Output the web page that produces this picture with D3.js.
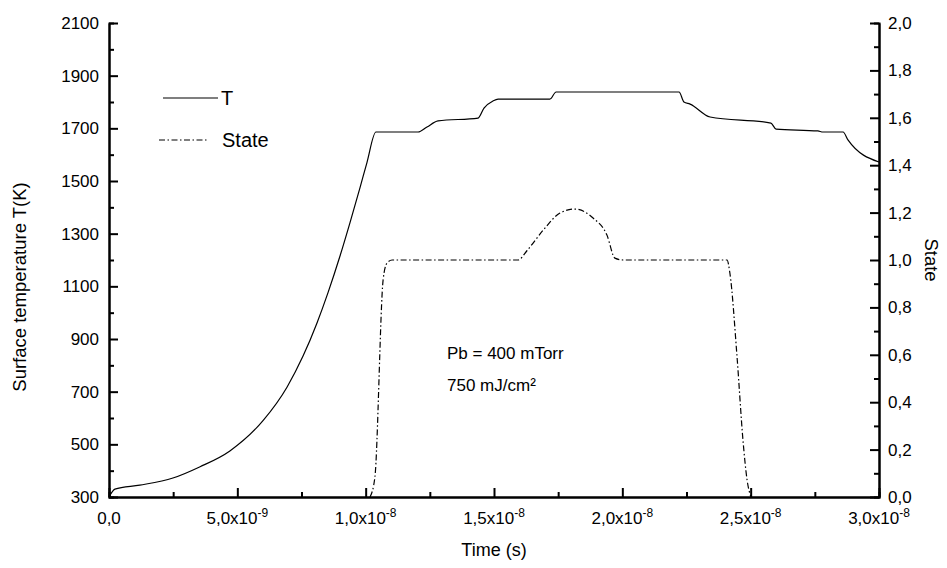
<!DOCTYPE html>
<html>
<head>
<meta charset="utf-8">
<script src="https://cdn.jsdelivr.net/npm/d3@7"></script>
<style>
  body { margin: 0; background: #fff; }
  svg { display: block; }
</style>
</head>
<body>
<div id="chart"></div>
<script>
let font = "Liberation Sans, Arial, sans-serif"

// Temperatur-Kurve (Zeit in ns, T in K)
let tempZeit = [0, 0.23, 1.2, 2.49, 3.55, 4.71, 6.0, 6.94, 7.56, 8.10, 8.53, 9.00, 9.39, 9.78, 10.05, 10.40,
    12.04, 12.39, 12.82, 14.38, 14.61, 14.96, 15.16, 17.18, 17.42, 22.21, 22.40, 22.64, 23.42, 25.79, 25.99,
    27.62, 27.82, 28.60, 28.79, 30.0];
let tempWerte = [300, 330, 345, 372, 415, 475, 590, 718, 835, 960, 1075, 1215, 1342, 1475, 1570, 1686,
    1686, 1705, 1728, 1739, 1777, 1804, 1811, 1811, 1838, 1838, 1800, 1792, 1743, 1720, 1697,
    1690, 1686, 1686, 1656, 1572];

// State-Kurve (Zeit in ns)
let stateZeit = [10.17, 10.36, 10.68, 10.83, 11.03, 15.94, 16.29, 16.91, 17.57, 18.15, 18.86, 19.40, 19.71, 20.03,
    24.08, 24.19, 24.47, 24.70, 24.86, 25.01];
let stateWerte = [0, 0.084, 0.916, 0.987, 1.0, 1.0, 1.04, 1.125, 1.198, 1.215, 1.177, 1.105, 1.008, 1.0,
    1.0, 0.945, 0.59, 0.24, 0.072, 0];

// Achsenbeschriftungen
let xTicks = [0, 5, 10, 15, 20, 25, 30];
let xTickBasis = ["0,0", "5,0x10", "1,0x10", "1,5x10", "2,0x10", "2,5x10", "3,0x10"];
let xTickExp = ["", "-9", "-8", "-8", "-8", "-8", "-8"];
let yTicksLinks = [300, 500, 700, 900, 1100, 1300, 1500, 1700, 1900, 2100];
let yTicksRechts = [0, 0.2, 0.4, 0.6, 0.8, 1.0, 1.2, 1.4, 1.6, 1.8, 2.0];

let margin = { top: 23, right: 68, bottom: 71, left: 109 },
    width = 947 - margin.left - margin.right,
    height = 568 - margin.top - margin.bottom;

let svg = d3.select("#chart").append("svg")
    .attr("width", 947)
    .attr("height", 568)
    .append("g")
    .attr("transform", "translate(" + margin.left + "," + margin.top + ")");

let x = d3.scaleLinear().domain([0, 30]).range([0, width]);
let yT = d3.scaleLinear().domain([300, 2100]).range([height, 0]);
let yS = d3.scaleLinear().domain([0, 2]).range([height, 0]);

function styleAxis(g) {
    g.selectAll("path").attr("stroke", "#000").attr("stroke-width", 2);
    g.selectAll("line").attr("stroke", "#000").attr("stroke-width", 2);
    g.selectAll("text").attr("font-family", font).attr("font-size", "17px").attr("fill", "#000");
}

// Nebenstriche
svg.append("g").attr("transform", "translate(0," + height + ")")
    .call(d3.axisBottom(x).tickValues(d3.range(2.5, 30, 5)).tickSize(-5).tickFormat(""))
    .call(styleAxis);
svg.append("g")
    .call(d3.axisLeft(yT).tickValues(d3.range(400, 2100, 200)).tickSize(-5).tickFormat(""))
    .call(styleAxis);
svg.append("g").attr("transform", "translate(" + width + ",0)")
    .call(d3.axisRight(yS).tickValues(d3.range(0.1, 2, 0.2)).tickSize(-5).tickFormat(""))
    .call(styleAxis);

// x-Achse
svg.append("g").attr("transform", "translate(0," + height + ")")
    .call(d3.axisBottom(x).tickValues(xTicks).tickSizeInner(-9).tickSizeOuter(0).tickFormat(""))
    .call(styleAxis);

let xLabel = svg.append("g").selectAll("text").data(xTicks).enter().append("text")
    .attr("x", d => x(d))
    .attr("y", height + 27)
    .attr("text-anchor", "middle")
    .attr("font-family", font)
    .attr("font-size", "17px");
xLabel.append("tspan").text((d, i) => xTickBasis[i]);
xLabel.append("tspan").attr("dy", -7).attr("font-size", "12px").text((d, i) => xTickExp[i]);

// linke Achse
svg.append("g")
    .call(d3.axisLeft(yT).tickValues(yTicksLinks).tickSizeInner(-9).tickSizeOuter(0).tickPadding(10)
        .tickFormat(d3.format("d")))
    .call(styleAxis);

// rechte Achse
svg.append("g").attr("transform", "translate(" + width + ",0)")
    .call(d3.axisRight(yS).tickValues(yTicksRechts).tickSizeInner(-9).tickSizeOuter(0).tickPadding(9)
        .tickFormat(d => d3.format(".1f")(d).replace(".", ",")))
    .call(styleAxis);

// Kurven
let tempDaten = tempZeit.map((t, i) => ({ t: t, v: tempWerte[i] }));
let stateDaten = stateZeit.map((t, i) => ({ t: t, v: stateWerte[i] }));

svg.append("path").datum(tempDaten)
    .attr("fill", "none").attr("stroke", "#000").attr("stroke-width", 1.2)
    .attr("d", d3.line().x(d => x(d.t)).y(d => yT(d.v)).curve(d3.curveMonotoneX));

svg.append("path").datum(stateDaten)
    .attr("fill", "none").attr("stroke", "#000").attr("stroke-width", 1.2)
    .attr("stroke-dasharray", "6,2.5,1.5,2.5")
    .attr("d", d3.line().x(d => x(d.t)).y(d => yS(d.v)).curve(d3.curveMonotoneX));

// Legende
let legende = svg.append("g").attr("font-family", font).attr("font-size", "20px");
legende.append("line").attr("x1", 54).attr("x2", 109).attr("y1", 75).attr("y2", 75)
    .attr("stroke", "#000").attr("stroke-width", 1.2);
legende.append("text").attr("x", 112).attr("y", 82).text("T");
legende.append("line").attr("x1", 50).attr("x2", 100).attr("y1", 117).attr("y2", 117)
    .attr("stroke", "#000").attr("stroke-width", 1.2).attr("stroke-dasharray", "6,2.5,1.5,2.5");
legende.append("text").attr("x", 113).attr("y", 124).text("State");

// Anmerkung
let notiz = svg.append("g").attr("font-family", font).attr("font-size", "17px");
notiz.append("text").attr("x", 338).attr("y", 336).text("Pb = 400 mTorr");
notiz.append("text").attr("x", 338).attr("y", 368).text("750 mJ/cm²");

// Achsentitel
svg.append("text")
    .attr("transform", "translate(" + (26 - margin.left) + "," + (287 - margin.top) + ") rotate(-90)")
    .attr("text-anchor", "middle").attr("font-family", font).attr("font-size", "18.5px")
    .text("Surface temperature T(K)");

svg.append("text")
    .attr("transform", "translate(" + (925 - margin.left) + "," + (260 - margin.top) + ") rotate(90)")
    .attr("text-anchor", "middle").attr("font-family", font).attr("font-size", "18.5px")
    .text("State");

svg.append("text")
    .attr("x", width / 2).attr("y", 556 - margin.top)
    .attr("text-anchor", "middle").attr("font-family", font).attr("font-size", "18px")
    .text("Time (s)");
</script>
</body>
</html>
